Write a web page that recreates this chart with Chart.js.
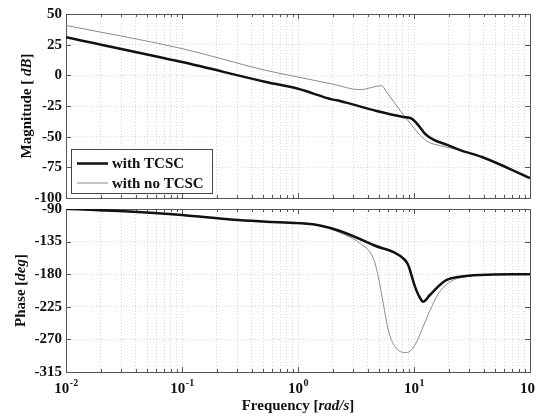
<!DOCTYPE html>
<html>
<head>
<meta charset="utf-8">
<script src="https://cdn.jsdelivr.net/npm/chart.js@4.4.0/dist/chart.umd.min.js"></script>
<style>
  body { margin: 0; background: #fff; }
  #wrap { position: relative; width: 536px; height: 419px; }
  #wrap canvas { position: absolute; left: 0; top: 0; }
</style>
</head>
<body>
<div id="wrap">
  <canvas id="mag" width="536" height="419"></canvas>
  <canvas id="phase" width="536" height="419"></canvas>
</div>

<script>
// bode plot data, frequency in rad/s
const xDecades = [-2, -1, 0, 1, 2];
const magTicks = [-100, -75, -50, -25, 0, 25, 50];
const phaseTicks = [-315, -270, -225, -180, -135, -90];
const seriesNames = ['with TCSC', 'with no TCSC'];

const magFreqTcsc = [0.01, 0.1, 0.53, 1, 2.0, 2.3, 4.76, 8.09, 9.55, 10.9, 12.4, 14.7, 19.1, 25, 38.5, 100];
const magTcsc     = [31, 10.8, -5.4, -11, -19.8, -20.9, -29.1, -34, -35.3, -40.7, -47.5, -52.4, -56.5, -61, -66.6, -83.7];

const magFreqNo = [0.01, 0.1, 0.53, 1, 2.0, 3.42, 5.25, 5.81, 7.57, 9.55, 11.3, 13.3, 16.7, 25, 38.5, 100];
const magNo     = [40.7, 21.8, 4, -1.4, -7.2, -11.7, -8.4, -13.6, -28.5, -40.7, -48.9, -54.3, -57.3, -61, -66.6, -83.7];

const phFreqTcsc = [0.01, 0.029, 0.1, 0.277, 0.53, 1, 1.58, 2.3, 4.46, 8.36, 8.91, 10.2, 11.3, 12.0, 13.7, 16.7, 19.1, 25, 37, 100];
const phTcsc     = [-89.5, -92.8, -98.3, -105, -107.5, -109.5, -113, -120.4, -139.7, -160.4, -167.3, -197.2, -213.2, -217.9, -208.7, -194.9, -188, -183.4, -181.1, -180];

const phFreqNo = [0.01, 0.029, 0.1, 0.277, 0.53, 1, 1.58, 2.3, 3.42, 4.46, 4.92, 5.43, 6.0, 6.85, 8.65, 10.2, 12.0, 14.2, 16.7, 21.8, 28.4, 37, 100];
const phNo     = [-89.5, -92.8, -98.3, -105, -107.5, -109.5, -113.5, -122.7, -137.4, -158, -183.4, -220.1, -257, -280, -288.2, -277.6, -252.3, -224.7, -204, -188, -183.4, -181.1, -180];

const serif = "'Liberation Serif', 'Times New Roman', serif";
const W = 536, H = 419;

// minor + major grid positions on the log axis
const gridFreqs = [];
for (let e = xDecades[0]; e < xDecades[xDecades.length - 1]; e++) {
  for (let m = 1; m <= 9; m++) gridFreqs.push(+(m * Math.pow(10, e)).toPrecision(3));
}
gridFreqs.push(Math.pow(10, xDecades[xDecades.length - 1]));

function pts(xs, ys) {
  return xs.map((x, i) => ({ x: x, y: ys[i] }));
}

function drawRich(ctx, parts, cx, cy) {
  let total = 0;
  parts.forEach(p => { ctx.font = p[1] + ' 15px ' + serif; total += ctx.measureText(p[0]).width; });
  let x = cx - total / 2;
  ctx.textAlign = 'left';
  parts.forEach(p => {
    ctx.font = p[1] + ' 15px ' + serif;
    ctx.fillText(p[0], x, cy);
    x += ctx.measureText(p[0]).width;
  });
}

// axes box with inward tick marks, like matlab
const framePlugin = {
  id: 'frame',
  beforeDatasetsDraw(chart) {
    const { ctx, chartArea: a, scales } = chart;
    ctx.save();
    ctx.strokeStyle = '#555';
    ctx.lineWidth = 1;
    ctx.beginPath();
    scales.x.ticks.forEach(t => {
      const px = Math.round(scales.x.getPixelForValue(t.value)) + 0.5;
      const len = Number.isInteger(Math.log10(t.value)) ? 5 : 3;
      ctx.moveTo(px, a.bottom); ctx.lineTo(px, a.bottom - len);
      ctx.moveTo(px, a.top); ctx.lineTo(px, a.top + len);
    });
    scales.y.ticks.forEach(t => {
      const py = Math.round(scales.y.getPixelForValue(t.value)) + 0.5;
      ctx.moveTo(a.left, py); ctx.lineTo(a.left + 5, py);
      ctx.moveTo(a.right, py); ctx.lineTo(a.right - 5, py);
    });
    ctx.stroke();
    ctx.strokeRect(Math.round(a.left) + 0.5, Math.round(a.top) + 0.5,
      Math.round(a.right - a.left), Math.round(a.bottom - a.top));
    ctx.restore();
  },
  afterDraw(chart, args, opts) {
    const { ctx, chartArea: a, scales } = chart;
    ctx.save();
    ctx.fillStyle = '#111';
    ctx.textBaseline = 'middle';
    ctx.save();
    ctx.translate(opts.titleX, (a.top + a.bottom) / 2);
    ctx.rotate(-Math.PI / 2);
    drawRich(ctx, opts.title, 0, 0);
    ctx.restore();

    if (opts.legend) {
      ctx.fillStyle = '#fff';
      ctx.fillRect(71, 149, 142, 44);
      ctx.strokeStyle = '#444';
      ctx.lineWidth = 1;
      ctx.strokeRect(71.5, 149.5, 141, 44);
      chart.data.datasets.forEach((ds, i) => {
        const y = 163.5 + i * 19.5;
        ctx.strokeStyle = ds.borderColor;
        ctx.lineWidth = ds.borderWidth;
        ctx.beginPath(); ctx.moveTo(77, y); ctx.lineTo(108, y); ctx.stroke();
        ctx.fillStyle = '#111';
        ctx.font = 'bold 15px ' + serif;
        ctx.textAlign = 'left';
        ctx.fillText(ds.label, 112, y + 1);
      });
    }

    if (opts.freqLabels) {
      ctx.textBaseline = 'alphabetic';
      ctx.textAlign = 'left';
      xDecades.forEach(e => {
        const px = scales.x.getPixelForValue(Math.pow(10, e));
        ctx.font = 'bold 15px ' + serif;
        const w1 = ctx.measureText('10').width;
        ctx.font = 'bold 10px ' + serif;
        const sup = String(e);
        const w2 = ctx.measureText(sup).width;
        const x0 = px - (w1 + w2) / 2;
        ctx.font = 'bold 15px ' + serif;
        ctx.fillText('10', x0, 393);
        ctx.font = 'bold 10px ' + serif;
        ctx.fillText(sup, x0 + w1 + 0.5, 386);
      });
      drawRich(ctx, [['Frequency [', 'bold'], ['rad/s', 'italic bold'], [']', 'bold']], 298, 410);
    }
    ctx.restore();
  }
};

function axisOptions(ticks, top, xHeight) {
  return {
    responsive: false,
    animation: false,
    events: [],
    layout: { padding: { top: top, left: 0, right: W - 530, bottom: 0 } },
    plugins: { legend: { display: false }, tooltip: { enabled: false } },
    elements: { point: { radius: 0 }, line: { cubicInterpolationMode: 'monotone' } },
    scales: {
      x: {
        type: 'logarithmic',
        min: Math.pow(10, xDecades[0]),
        max: Math.pow(10, xDecades[xDecades.length - 1]),
        afterBuildTicks: s => { s.ticks = gridFreqs.map(v => ({ value: v })); },
        afterFit: s => { s.height = xHeight; },
        ticks: { display: false },
        grid: { color: '#d9d9d9', lineWidth: 1, drawTicks: false },
        border: { display: false, dash: [1, 2] }
      },
      y: {
        type: 'linear',
        min: ticks[0],
        max: ticks[ticks.length - 1],
        afterBuildTicks: s => { s.ticks = ticks.map(v => ({ value: v })); },
        afterFit: s => { s.width = 66; },
        ticks: { color: '#111', padding: 4, font: { family: serif, size: 15, weight: 'bold' } },
        grid: { color: '#d9d9d9', lineWidth: 1, drawTicks: false },
        border: { display: false, dash: [1, 2] }
      }
    }
  };
}

function lineSet(label, data, thick) {
  return {
    label: label,
    data: data,
    borderColor: thick ? '#111' : '#8a8a8a',
    borderWidth: thick ? 2.5 : 1,
    fill: false
  };
}

const magOpts = axisOptions(magTicks, 14, H - 198);
magOpts.plugins.frame = { titleX: 27, title: [['Magnitude [ ', 'bold'], ['dB', 'italic bold'], [']', 'bold']], legend: true };
new Chart(document.getElementById('mag'), {
  type: 'line',
  data: {
    datasets: [
      lineSet(seriesNames[0], pts(magFreqTcsc, magTcsc), true),
      lineSet(seriesNames[1], pts(magFreqNo, magNo), false)
    ]
  },
  options: magOpts,
  plugins: [framePlugin]
});

const phOpts = axisOptions(phaseTicks, 209, H - 372);
phOpts.plugins.frame = { titleX: 21, title: [['Phase [', 'bold'], ['deg', 'italic bold'], [']', 'bold']], freqLabels: true };
new Chart(document.getElementById('phase'), {
  type: 'line',
  data: {
    datasets: [
      lineSet(seriesNames[0], pts(phFreqTcsc, phTcsc), true),
      lineSet(seriesNames[1], pts(phFreqNo, phNo), false)
    ]
  },
  options: phOpts,
  plugins: [framePlugin]
});
</script>
</body>
</html>
